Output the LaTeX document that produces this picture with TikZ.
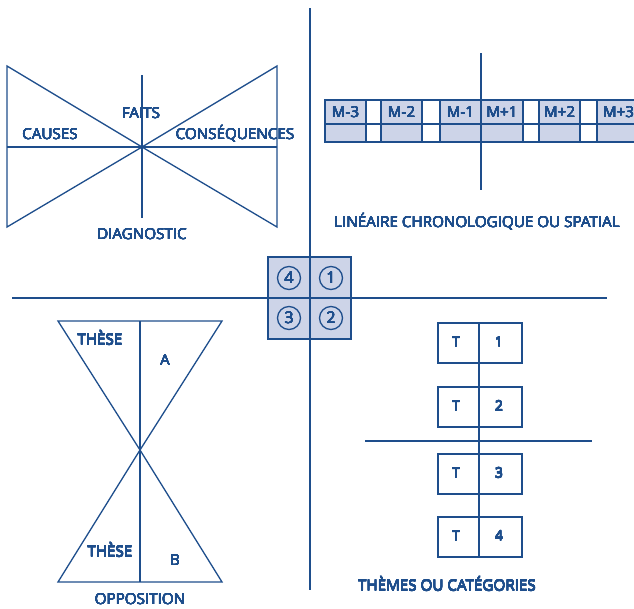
\documentclass[tikz,border=0pt]{standalone}
\usepackage{fontspec}
\usepackage{contour}
\setmainfont{Open Sans}
\contourlength{0.12pt}
\contournumber{12}
\definecolor{ink}{HTML}{1E4E8C}
\definecolor{pale}{HTML}{CDD4E8}
\newcommand{\heavy}[1]{\contour{ink}{#1}}
\tikzset{
  ln/.style={draw=ink, line width=1.3pt},
  lbl/.style={text=ink, inner sep=0pt, font=\fontsize{15.2}{17}\selectfont},
  small/.style={text=ink, inner sep=0pt, font=\fontsize{14}{16}\selectfont},
  cell/.style={ln, fill=pale},
  tbox/.style={ln, fill=white},
}
\begin{document}
\begin{tikzpicture}[x=1pt, y=-1pt]
\useasboundingbox (0,0) rectangle (634,608);
\clip (0,0) rectangle (634,608);

% main cross
\draw[ln] (310,8) -- (310,590);
\draw[ln] (12,298) -- (607,298);

% central 2x2 grid
\draw[cell] (268,257) rectangle (351,339);
\draw[ln] (310,257) -- (310,339);
\draw[ln] (268,298) -- (351,298);
\foreach \n/\cx/\cy in {4/289/278, 1/331/278, 3/289/318, 2/331/318}{
  \node[circle, draw=ink, line width=1.3pt, minimum size=23pt, inner sep=0pt,
        text=ink, font=\fontsize{16}{18}\selectfont] (c\n) at (\cx,\cy) {\heavy{\n}};
}

% bow tie: causes / consequences
\coordinate (bx) at (142,147);
\draw[ln] (7,66) -- (7,227) -- (bx) -- cycle;
\draw[ln] (277,66) -- (277,227) -- (bx) -- cycle;
\draw[ln] (7,147) -- (277,147);
\draw[ln] (142,75) -- (142,218);
\node[lbl] (faits) at (141,113) {\heavy{FAITS}};
\node[lbl] (causes) at (50,134) {\heavy{CAUSES}};
\node[lbl] (cons) at (235,134) {\heavy{CONSÉQUENCES}};
\node[lbl] (diag) at (142,234) {\heavy{DIAGNOSTIC}};

% linear strip
\foreach \a/\b/\t in {325/366/M-3, 381/422/M-2, 440/481/M-1, 481/523/M+1, 539/580/M+2, 597/640/M+3}{
  \draw[cell] (\a,100) rectangle (\b,142);
  \draw[ln] (\a,124) -- (\b,124);
  \node[lbl] (m\t) at ({(\a+\b)/2},112) {\heavy{\t}};
}
\draw[ln] (325,100) -- (640,100);
\draw[ln] (325,124) -- (640,124);
\draw[ln] (325,142) -- (640,142);
\draw[ln] (481,53) -- (481,190);
\node[lbl] (lin) at (477,222) {\heavy{LINÉAIRE CHRONOLOGIQUE OU SPATIAL}};

% hourglass: opposition
\coordinate (hx) at (140,450);
\draw[ln] (58,321) -- (222,321) -- (hx) -- cycle;
\draw[ln] (58,582) -- (222,582) -- (hx) -- cycle;
\draw[ln] (140,321) -- (140,582);
\node[lbl] (these1) at (100,338) {\heavy{THÈSE}};
\node[lbl] (a) at (165,360) {\heavy{A}};
\node[lbl] (these2) at (110,550) {\heavy{THÈSE}};
\node[lbl] (b) at (175,560) {\heavy{B}};
\node[lbl] (opp) at (140,599) {\heavy{OPPOSITION}};

% themes
\draw[ln] (479,363) -- (479,517);
\draw[ln] (365,441) -- (592,441);
\foreach \k/\top in {1/323, 2/387, 3/454, 4/517}{
  \draw[tbox] (438,\top) rectangle (522,\top+40);
  \draw[ln] (479,\top) -- (479,\top+40);
  \node[small] (t\k) at (456,\top+19) {\heavy{T}};
  \node[small] (n\k) at (499,\top+19) {\heavy{\k}};
}
\node[lbl] (themes) at (447,584) {\heavy{THÈMES OU CATÉGORIES}};
\end{tikzpicture}
\end{document}
